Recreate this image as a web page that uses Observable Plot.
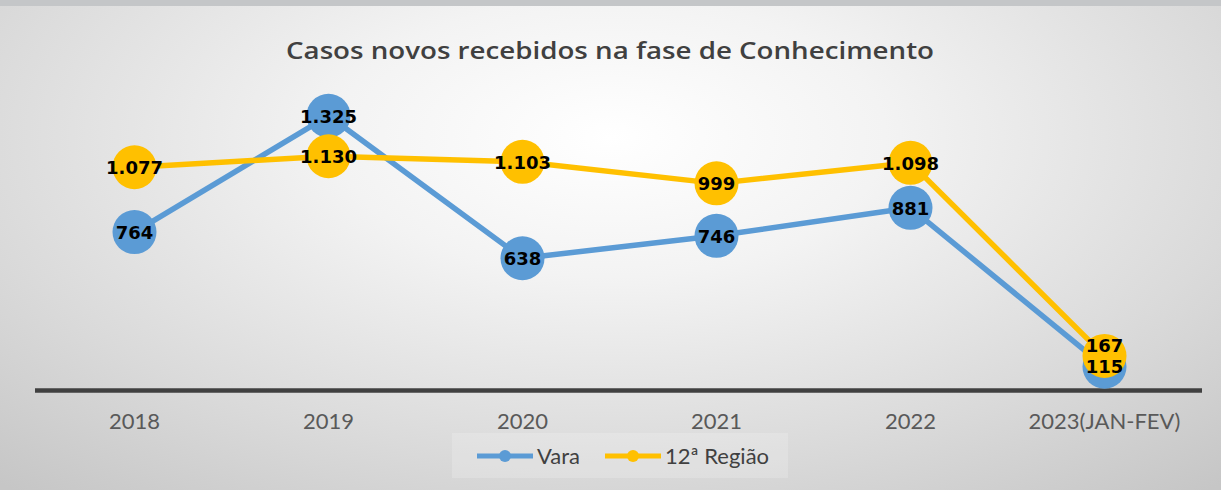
<!DOCTYPE html>
<html>
<head>
<meta charset="utf-8">
<script src="https://cdn.jsdelivr.net/npm/d3@7"></script>
<script src="https://cdn.jsdelivr.net/npm/@observablehq/plot@0.6"></script>
<style>
  html, body { margin: 0; padding: 0; }
  #chart {
    position: relative; width: 1221px; height: 490px; overflow: hidden;
    background: radial-gradient(ellipse 75% 95% at 50% 28%, #ffffff 0%, #f3f3f3 30%, #dadada 70%, #c6c6c6 100%);
    font-family: Lato, "Open Sans", sans-serif;
  }
  #topband { position: absolute; left: 0; top: 0; width: 1221px; height: 6px; background: #c4c6c8; }
  #title {
    position: absolute; left: 0; width: 1221px; top: 37px; text-align: center;
    font-family: "Open Sans", Lato, sans-serif; font-weight: 600;
    font-size: 23px; line-height: 26px; color: #404040; white-space: nowrap;
  }
  #title span { display: inline-block; transform-origin: 50% 50%; }
  #plot { position: absolute; left: 0; top: 70px; }
  #legend {
    position: absolute; left: 452px; top: 433px; width: 336px; height: 45px;
    background: rgba(255,255,255,0.18);
  }
  .lg-text { position: absolute; top: 11.5px; font-size: 22px; line-height: 22px; color: #404040; white-space: nowrap; }
  .lg-sym { position: absolute; top: 16px; }
</style>
</head>
<body>
<div id="chart">
  <div id="topband"></div>
  <div id="title"><span>Casos novos recebidos na fase de Conhecimento</span></div>
  <div id="plot"></div>
  <div id="legend"></div>
</div>
<script>
const categories = ["2018", "2019", "2020", "2021", "2022", "2023(JAN-FEV)"];
const vara = [764, 1325, 638, 746, 881, 115];
const regiao = [1077, 1130, 1103, 999, 1098, 167];
const seriesNames = ["Vara", "12ª Região"];
const seriesColors = ["#5B9BD5", "#FFC000"];

const ptBR = d3.formatLocale({decimal: ",", thousands: ".", grouping: [3], currency: ["R$", ""]});
const fmt = ptBR.format(",d");

const rowsVara = categories.map((c, i) => ({cat: c, value: vara[i], series: seriesNames[0]}));
const rowsReg = categories.map((c, i) => ({cat: c, value: regiao[i], series: seriesNames[1]}));
const last = categories[categories.length - 1];

const labelStyle = {fontFamily: "DejaVu Sans", fontWeight: "bold", fontSize: 18, fill: "#000"};

const chart = Plot.plot({
  width: 1221,
  height: 370,
  marginLeft: 35,
  marginRight: 19,
  marginTop: 9,
  marginBottom: 50,
  style: {background: "transparent", overflow: "visible", fontFamily: "Lato"},
  x: {type: "point", domain: categories, padding: 0.5, label: null},
  y: {domain: [0, 1500], axis: null},
  marks: [
    Plot.ruleY([0], {stroke: "#404040", strokeWidth: 4.5}),
    Plot.axisX({tickSize: 0, tickPadding: 23, fontSize: 22, fontFamily: "Lato", fill: "#595959", label: null}),
    Plot.line(rowsVara, {x: "cat", y: "value", stroke: seriesColors[0], strokeWidth: 5.5}),
    Plot.dot(rowsVara, {x: "cat", y: "value", r: 22, fill: seriesColors[0], stroke: "none"}),
    Plot.line(rowsReg, {x: "cat", y: "value", stroke: seriesColors[1], strokeWidth: 5.5}),
    Plot.dot(rowsReg, {x: "cat", y: "value", r: 22, fill: seriesColors[1], stroke: "none"}),
    Plot.text(rowsVara, {x: "cat", y: "value", text: d => fmt(d.value), dy: 1, ...labelStyle}),
    Plot.text(rowsReg.filter(d => d.cat !== last), {x: "cat", y: "value", text: d => fmt(d.value), dy: 1, ...labelStyle}),
    Plot.text(rowsReg.filter(d => d.cat === last), {x: "cat", y: "value", text: d => fmt(d.value), dy: -10, ...labelStyle})
  ]
});
document.getElementById("plot").appendChild(chart);

// title width fit
const tspan = document.querySelector("#title span");
const w = tspan.getBoundingClientRect().width;
tspan.style.transform = `scaleX(${648 / w})`;

// legend
const legend = document.getElementById("legend");
const symX = [24, 152];
const textX = [85, 213];
seriesNames.forEach((name, i) => {
  const sym = document.createElementNS("http://www.w3.org/2000/svg", "svg");
  sym.setAttribute("width", 58); sym.setAttribute("height", 14);
  sym.setAttribute("class", "lg-sym");
  sym.style.left = symX[i] + "px";
  sym.innerHTML = `<line x1="1" y1="7" x2="57" y2="7" stroke="${seriesColors[i]}" stroke-width="5"/><circle cx="29" cy="7" r="6" fill="${seriesColors[i]}"/>`;
  legend.appendChild(sym);
  const t = document.createElement("div");
  t.className = "lg-text";
  t.style.left = textX[i] + "px";
  t.textContent = name;
  legend.appendChild(t);
});
</script>
</body>
</html>
